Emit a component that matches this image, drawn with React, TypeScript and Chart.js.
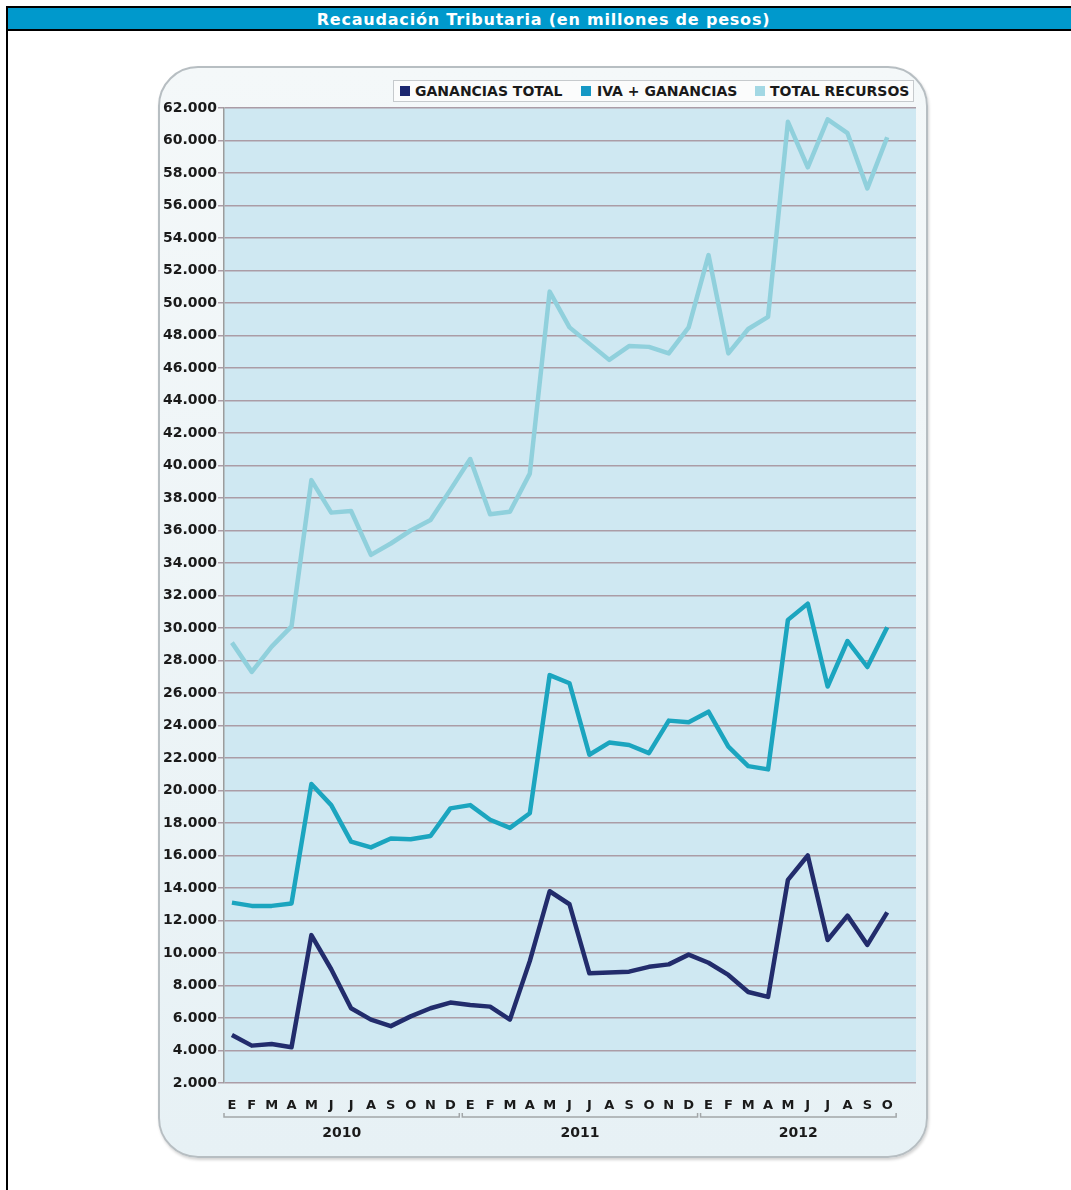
import React, { useEffect, useRef } from 'react';
import { Chart, registerables } from 'chart.js';

Chart.register(...registerables);

const TITLE = 'Recaudación Tributaria (en millones de pesos)';
const MONTHS = ['E', 'F', 'M', 'A', 'M', 'J', 'J', 'A', 'S', 'O', 'N', 'D'];
const YEARS = ['2010', '2011', '2012'];
const MONTHS_PER_YEAR = [12, 12, 10];
const SERIES_NAMES = ['GANANCIAS TOTAL', 'IVA + GANANCIAS', 'TOTAL RECURSOS'];

const GANANCIAS_TOTAL = [
  4950, 4300, 4400, 4200, 11100, 9000, 6600, 5900, 5500, 6100, 6600, 6950,
  6800, 6700, 5900, 9500, 13800, 13000, 8750, 8800, 8850, 9150, 9300, 9900,
  9400, 8650, 7600, 7300, 14500, 16000, 10800, 12300, 10500, 12500,
];
const IVA_GANANCIAS = [
  13100, 12900, 12900, 13050, 20400, 19100, 16850, 16500, 17050, 17000, 17200, 18900,
  19100, 18200, 17700, 18600, 27100, 26600, 22200, 22950, 22800, 22300, 24300, 24200,
  24850, 22700, 21500, 21300, 30500, 31500, 26400, 29200, 27600, 30050,
];
const TOTAL_RECURSOS = [
  29100, 27300, 28850, 30100, 39100, 37100, 37200, 34500, 35200, 36000, 36650, 38500,
  40400, 37000, 37150, 39500, 50700, 48500, 47500, 46500, 47350, 47300, 46900, 48500,
  52950, 46900, 48400, 49150, 61150, 58350, 61300, 60450, 57050, 60200,
];

const Y_MIN = 2000;
const Y_MAX = 62000;
const Y_STEP = 2000;

const COLORS = ['#222c6c', '#1ba5bf', '#90d0dc'];
const LEGEND_COLORS = ['#1d2870', '#1598c5', '#a3d8e4'];

// category labels built from months / years
const CATEGORY_LABELS: string[] = [];
MONTHS_PER_YEAR.forEach((n) => {
  for (let m = 0; m < n; m++) CATEGORY_LABELS.push(MONTHS[m]);
});

const FONT = "'DejaVu Sans', Verdana, sans-serif";

const decorPlugin = {
  id: 'decor',
  beforeDraw(chart: any) {
    const { ctx, chartArea: a } = chart;
    ctx.save();
    ctx.fillStyle = '#cfe8f2';
    ctx.fillRect(a.left, a.top, a.right - a.left, a.bottom - a.top);
    ctx.restore();
  },
  afterDraw(chart: any) {
    const { ctx } = chart;
    const xs = chart.scales.x;
    const a = chart.chartArea;
    const lineY = a.bottom + 34;
    const textY = a.bottom + 50;
    let start = 0;
    ctx.save();
    YEARS.forEach((yr, k) => {
      const n = MONTHS_PER_YEAR[k];
      const x0 = xs.getPixelForValue(start - 0.4);
      const x1 = xs.getPixelForValue(start + n - 0.55);
      ctx.strokeStyle = '#a2a6a8';
      ctx.lineWidth = 1.5;
      ctx.beginPath();
      ctx.moveTo(x0, lineY - 4);
      ctx.lineTo(x0, lineY);
      ctx.lineTo(x1, lineY);
      ctx.lineTo(x1, lineY - 4);
      ctx.stroke();
      ctx.fillStyle = '#1a1a1a';
      ctx.font = `bold 14px ${FONT}`;
      ctx.textAlign = 'center';
      ctx.textBaseline = 'middle';
      ctx.fillText(yr, (x0 + x1) / 2, textY);
      start += n;
    });
    ctx.restore();
  },
};

function ChartCanvas() {
  const ref = useRef<HTMLCanvasElement | null>(null);
  useEffect(() => {
    const canvas = ref.current;
    if (!canvas) return;
    const mk = (arr: number[]) => arr.map((v, i) => ({ x: i, y: v }));
    const chart = new Chart(canvas, {
      type: 'line',
      data: {
        datasets: [
          { label: SERIES_NAMES[2], data: mk(TOTAL_RECURSOS), borderColor: COLORS[2] },
          { label: SERIES_NAMES[1], data: mk(IVA_GANANCIAS), borderColor: COLORS[1] },
          { label: SERIES_NAMES[0], data: mk(GANANCIAS_TOTAL), borderColor: COLORS[0] },
        ].map((d) => ({
          ...d,
          borderWidth: 4.5,
          pointRadius: 0,
          tension: 0,
          fill: false,
          borderJoinStyle: 'round' as const,
        })),
      },
      plugins: [decorPlugin],
      options: {
        animation: false,
        responsive: false,
        devicePixelRatio: 1,
        layout: { padding: { left: 0, right: 12, top: 42, bottom: 35 } },
        plugins: { legend: { display: false }, tooltip: { enabled: false } },
        scales: {
          x: {
            type: 'linear',
            min: -0.4,
            max: 34.45,
            afterFit: (s: any) => {
              s.height = 40;
            },
            afterBuildTicks: (s: any) => {
              s.ticks = CATEGORY_LABELS.map((_, i) => ({ value: i }));
            },
            grid: { display: false, drawTicks: false },
            border: { display: false },
            ticks: {
              autoSkip: false,
              maxRotation: 0,
              padding: 15,
              color: '#1a1a1a',
              font: { family: FONT, size: 13, weight: 'bold' },
              callback: (v: any) => CATEGORY_LABELS[v as number] ?? '',
            },
          },
          y: {
            min: Y_MIN,
            max: Y_MAX,
            afterFit: (s: any) => {
              s.width = 66;
            },
            grid: { color: '#ab9ca6', lineWidth: 1.5, tickLength: 6, drawTicks: true },
            border: { display: true, color: '#9c9c9c', width: 1.5 },
            ticks: {
              stepSize: Y_STEP,
              padding: 1,
              color: '#1a1a1a',
              font: { family: FONT, size: 14, weight: 'bold' },
              callback: (v: any) => `${Math.round((v as number) / 1000)}.000`,
            },
          },
        },
      },
    } as any);
    return () => chart.destroy();
  }, []);
  return (
    <canvas
      ref={ref}
      width={770}
      height={1092}
      style={{ position: 'absolute', left: 158, top: 66, width: 770, height: 1092 }}
    />
  );
}

export default function App() {
  useEffect(() => {
    document.body.style.overflow = 'hidden';
  }, []);
  const legendPos = [
    { sq: 400, tx: 415 },
    { sq: 581, tx: 597 },
    { sq: 755, tx: 770 },
  ];
  return (
    <div style={{ position: 'absolute', left: 0, top: 0, width: 1071, height: 1190, overflow: 'hidden', background: '#fff' }}>
      <div
        style={{
          position: 'absolute',
          left: 6,
          top: 6,
          width: 1065,
          height: 1184,
          borderLeft: '2px solid #000',
          borderTop: '2px solid #000',
          boxSizing: 'border-box',
        }}
      >
        <div
          style={{
            height: 21,
            background: '#0099cc',
            borderBottom: '2px solid #000',
            color: '#fff',
            fontFamily: FONT,
            fontWeight: 'bold',
            fontSize: 16,
            letterSpacing: 0.8,
            lineHeight: '23px',
            textAlign: 'center',
            paddingLeft: 8,
            overflow: 'hidden',
          }}
        >
          {TITLE}
        </div>
      </div>
      <div
        style={{
          position: 'absolute',
          left: 158,
          top: 66,
          width: 770,
          height: 1092,
          boxSizing: 'border-box',
          border: '2px solid #b7bec2',
          borderRadius: 40,
          background: 'linear-gradient(to bottom, #f4f8f9, #e7f1f5)',
          boxShadow: '1px 2px 3px rgba(0,0,0,0.18)',
        }}
      />
      <ChartCanvas />
      <div
        style={{
          position: 'absolute',
          left: 393,
          top: 80,
          width: 521,
          height: 22,
          boxSizing: 'border-box',
          border: '1px solid #c6cacd',
          background: '#fbfcfc',
        }}
      />
      {SERIES_NAMES.map((name, i) => (
        <React.Fragment key={name}>
          <div
            style={{
              position: 'absolute',
              left: legendPos[i].sq,
              top: 86,
              width: 10,
              height: 10,
              background: LEGEND_COLORS[i],
            }}
          />
          <div
            style={{
              position: 'absolute',
              left: legendPos[i].tx,
              top: 82,
              height: 18,
              lineHeight: '18px',
              fontFamily: FONT,
              fontWeight: 'bold',
              fontSize: 14,
              color: '#1a1a1a',
              whiteSpace: 'nowrap',
            }}
          >
            {name}
          </div>
        </React.Fragment>
      ))}
    </div>
  );
}
